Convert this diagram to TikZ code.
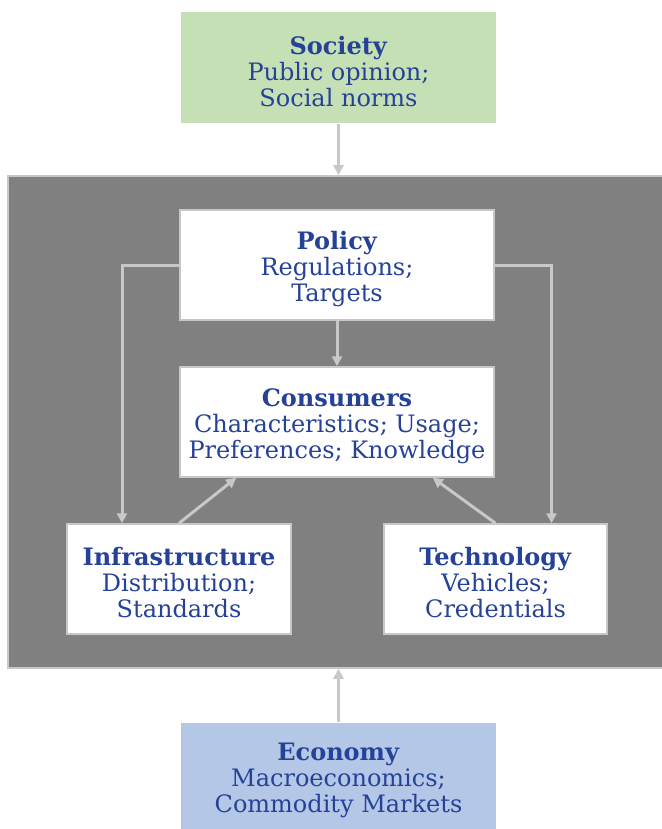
\documentclass[tikz,border=0pt]{standalone}
\usepackage{fontspec}
\setmainfont{DejaVu Serif}
\usetikzlibrary{arrows.meta,positioning}
\definecolor{titleblue}{RGB}{38,66,152}
\definecolor{societygreen}{RGB}{197,224,180}
\definecolor{economyblue}{RGB}{180,199,231}
\definecolor{framegray}{RGB}{128,128,128}
\definecolor{linegray}{RGB}{200,200,200}
\newcommand{\factortitle}[1]{\rule{0pt}{26pt}\textbf{#1}}
\tikzset{
  factor/.style={draw=linegray, line width=1.5pt, fill=white, inner sep=2pt,
    minimum width=314pt, minimum height=110pt, align=center, text=titleblue,
    font=\fontsize{24}{26}\selectfont},
  outer/.style={factor, draw=none},
  conn/.style={draw=linegray, line width=3pt,
    -{Triangle[width=10pt,length=10pt]}},
}
\begin{document}
\begin{tikzpicture}[x=1pt,y=-1pt]
  \useasboundingbox (0,0) rectangle (661,829);
  % outside factors
  \node[outer, fill=societygreen, minimum width=315pt, minimum height=111pt] (society) at (338.5,67.5)
    {\factortitle{Society}\\Public opinion;\\Social norms};
  \node[outer, fill=economyblue, minimum width=315pt, minimum height=106pt] (economy) at (338.5,776)
    {\factortitle{Economy}\\Macroeconomics;\\Commodity Markets};
  % system
  \node[draw=linegray, line width=1.5pt, fill=framegray, minimum width=664pt, minimum height=492pt, inner sep=0pt] (system) at (340,422) {};
  \node[factor] (policy) at (337,265) {\factortitle{Policy}\\Regulations;\\Targets};
  \node[factor] (consumers) at (337,422) {\factortitle{Consumers}\\Characteristics; Usage;\\Preferences; Knowledge};
  \node[factor, minimum width=224pt] (infra) at (179,579) {\factortitle{Infrastructure}\\Distribution;\\Standards};
  \node[factor, minimum width=223pt] (tech) at (495.5,579) {\factortitle{Technology}\\Vehicles;\\Credentials};
  % connectors
  \draw[conn] (society.south) -- (society.south |- system.north);
  \draw[conn] (economy.north) -- (economy.north |- system.south);
  \draw[conn] (policy) -- (consumers);
  \draw[conn] (policy.west) -| ([xshift=-57pt]infra.north);
  \draw[conn] (policy.east) -| ([xshift=56pt]tech.north);
  \draw[conn] (infra.north) -- ([xshift=57pt]consumers.south west);
  \draw[conn] (tech.north) -- ([xshift=-62pt]consumers.south east);
\end{tikzpicture}
\end{document}
